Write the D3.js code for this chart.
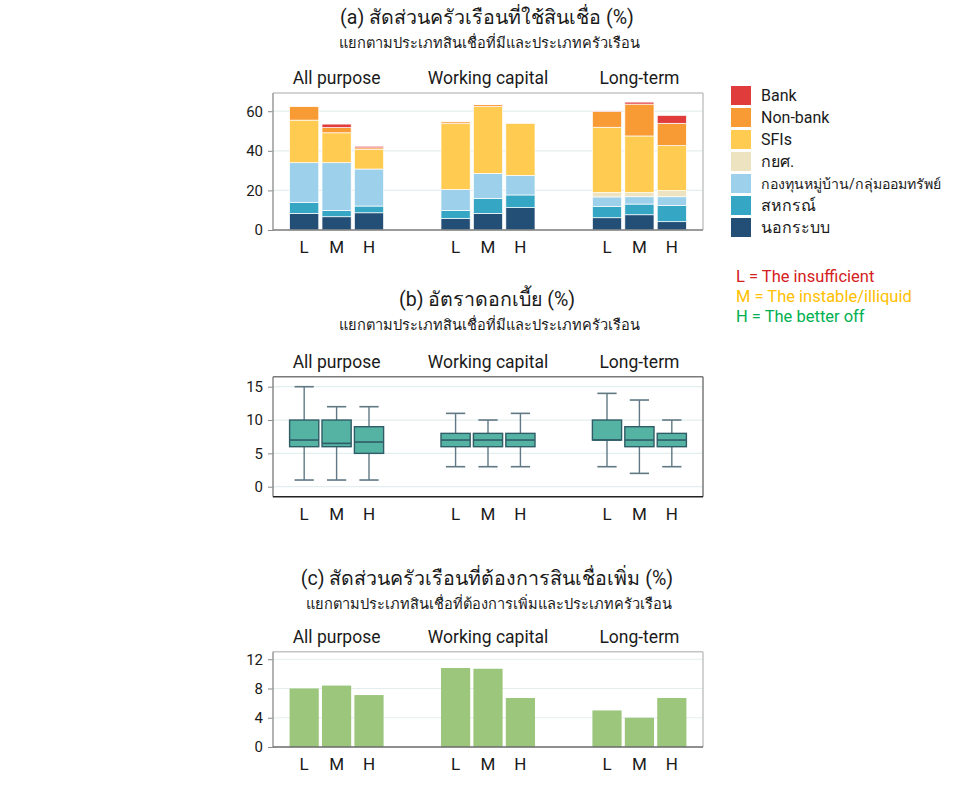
<!DOCTYPE html>
<html><head><meta charset="utf-8">
<script src="https://cdn.jsdelivr.net/npm/d3@7/dist/d3.min.js"></script>
<style>
body{margin:0;background:#fff;}
text{font-family:Roboto,"Noto Sans","DejaVu Sans",sans-serif;fill:#1a1a1a;}
</style></head>
<body><svg id="c" width="960" height="788"></svg>
<script>
// ---- data ----
const categories = ["All purpose","Working capital","Long-term"];
const hhTypes = ["L","M","H"];
// stacked sources, bottom to top
const sources = ["นอกระบบ","สหกรณ์","กองทุนหมู่บ้าน/กลุ่มออมทรัพย์","กยศ.","SFIs","Non-bank","Bank"];
const sourceColors = ["#234e76","#36a6c5","#9dd0ea","#ede3c0","#ffcb50","#f99b35","#e03c3c"];
// order: AP L,M,H | WC L,M,H | LT L,M,H
const informal = [8.4,6.7,8.7, 5.9,8.4,11.3, 6.2,7.7,4.2];
const coop     = [5.6,3.2,3.4, 3.9,7.6,6.4, 5.6,5.4,8.1];
const villageFund = [20,24.1,18.7, 10.6,12.6,9.9, 4.9,3.7,4.5];
const studentFund = [0,0,0, 0,0,0, 2.2,2.1,3.1];
const sfis     = [21.5,15.1,9.8, 33.3,33.7,26.3, 33,28.6,22.7];
const nonBank  = [6.8,2.6,0.9, 0.9,1.0,0.3, 7.9,16.1,11.3];
const bank     = [0,1.8,0.8, 0,0.3,0.2, 0.3,1.0,4.0];
const ticksA = [0,20,40,60];

// box plot (interest rate %)
const whiskerLow  = [1,1,1, 3,3,3, 3,2,3];
const q1          = [6,6,5, 6,6,6, 7,6,6];
const median      = [7,6.5,6.7, 7,7,7, 7,7,7];
const q3          = [10,10,9, 8,8,8, 10,9,8];
const whiskerHigh = [15,12,12, 11,10,11, 14,13,10];
const ticksB = [0,5,10,15];

// share wanting more credit
const wantMore = [8.0,8.4,7.1, 10.8,10.7,6.7, 5.0,4.0,6.7];
const ticksC = [0,4,8,12];

const legendNotes = [["L = The insufficient","#d42020"],["M = The instable/illiquid","#ffc000"],["H = The better off","#00b050"]];

// ---- drawing ----
const svg = d3.select("#c");
const X0 = 273, X1 = 703;
const gx = d3.scalePoint().domain(categories).range([X0,X1]).padding(0.42);
const ix = d3.scaleBand().domain(hhTypes).range([-47,47]).paddingInner(0.1);
const rows = [];
categories.forEach((c,ci)=>hhTypes.forEach((h,hi)=>rows.push({c,h,i:ci*3+hi})));
const bx = d => gx(d.c)+ix(d.h);

function title(y, t, sub){
  svg.append("text").attr("x",487).attr("y",y).attr("text-anchor","middle")
    .attr("font-size",19.6).text(t);
  svg.append("text").attr("x",489).attr("y",y+24).attr("text-anchor","middle")
    .attr("font-size",14.6).text(sub);
}

function frame(top,bottom,y,ticks,opts){
  const g = svg.append("g");
  g.selectAll(".gl").data(ticks.filter(t=>t!==0 || opts.zeroGrid)).join("line")
    .attr("x1",X0).attr("x2",X1).attr("y1",d=>y(d)).attr("y2",d=>y(d))
    .attr("stroke","#e4eeee").attr("stroke-width",1.2);
  g.selectAll(".gt").data(categories).join("text")
    .attr("x",d=>gx(d)).attr("y",top-9).attr("text-anchor","middle")
    .attr("font-size",17.5).text(d=>d);
  g.selectAll(".hl").data(rows).join("text")
    .attr("x",d=>bx(d)+ix.bandwidth()/2).attr("y",bottom+23).attr("text-anchor","middle")
    .attr("font-size",17).text(d=>d.h);
  return g;
}

function axisAndBox(top,bottom,y,ticks,style){
  const ax = d3.axisLeft(y).tickValues(ticks).tickSize(5).tickPadding(5);
  const a = svg.append("g").attr("transform",`translate(${X0},0)`).call(ax);
  a.select(".domain").remove();
  a.selectAll(".tick line").attr("stroke","#8a8a8a");
  a.selectAll(".tick text").attr("font-size",15).attr("fill","#1a1a1a")
    .style("font-family","Roboto,'Noto Sans',sans-serif");
  svg.append("line").attr("x1",X0).attr("x2",X1).attr("y1",top).attr("y2",top).attr("stroke",style.top).attr("stroke-width",1.5);
  svg.append("line").attr("x1",X1).attr("x2",X1).attr("y1",top).attr("y2",bottom).attr("stroke",style.top).attr("stroke-width",1.5);
  svg.append("line").attr("x1",X0).attr("x2",X0).attr("y1",top).attr("y2",bottom).attr("stroke",style.left).attr("stroke-width",1.5);
  svg.append("line").attr("x1",X0).attr("x2",X1).attr("y1",bottom).attr("y2",bottom).attr("stroke",style.bottom).attr("stroke-width",1.5);
}

// ===== Panel (a) =====
title(24,"(a) สัดส่วนครัวเรือนที่ใช้สินเชื่อ (%)","แยกตามประเภทสินเชื่อที่มีและประเภทครัวเรือน");
const aTop=93, aBot=230;
const ya = d3.scaleLinear().domain([0,69.2]).range([aBot,aTop]);
frame(aTop,aBot,ya,ticksA,{});
const seriesVals = [informal,coop,villageFund,studentFund,sfis,nonBank,bank];
const table = rows.map(r=>{const o={key:r.i,c:r.c,h:r.h}; sources.forEach((s,si)=>o[s]=seriesVals[si][r.i]); return o;});
const stack = d3.stack().keys(sources)(table);
svg.append("g").selectAll("g").data(stack).join("g").attr("fill",(d,i)=>sourceColors[i])
  .selectAll("rect").data(d=>d).join("rect")
  .attr("x",d=>bx(d.data)).attr("width",ix.bandwidth())
  .attr("y",d=>ya(d[1])).attr("height",d=>Math.max(0,ya(d[0])-ya(d[1])))
  .attr("stroke","#fff").attr("stroke-width",0.7);
axisAndBox(aTop,aBot,ya,ticksA,{top:"#c4c4c4",left:"#9a9a9a",bottom:"#7a7a7a"});

// legend
const lg = svg.append("g");
const legItems = sources.map((s,i)=>({s,c:sourceColors[i]})).reverse();
lg.selectAll("rect").data(legItems).join("rect")
  .attr("x",731).attr("y",(d,i)=>86+i*22).attr("width",20).attr("height",19).attr("fill",d=>d.c);
lg.selectAll("text").data(legItems).join("text")
  .attr("x",761).attr("y",(d,i)=>101+i*22).attr("font-size",16).text(d=>d.s)
  .each(function(){ const L=this.getComputedTextLength(); if(L>186){ d3.select(this).attr("font-size",16*186/L); } });
svg.append("g").selectAll("text").data(legendNotes).join("text")
  .attr("x",736).attr("y",(d,i)=>282+i*20).attr("font-size",16.5)
  .style("fill",d=>d[1]).text(d=>d[0]);

// ===== Panel (b) =====
title(306,"(b) อัตราดอกเบี้ย (%)","แยกตามประเภทสินเชื่อที่มีและประเภทครัวเรือน");
const bTop=376.7, bBot=496.7;
const yb = d3.scaleLinear().domain([-1.5,16.5]).range([bBot,bTop]);
frame(bTop,bBot,yb,ticksB,{zeroGrid:true});
const bg = svg.append("g");
const bw = ix.bandwidth();
const boxes = bg.selectAll("g").data(rows).join("g");
boxes.append("line").attr("x1",d=>bx(d)+bw/2).attr("x2",d=>bx(d)+bw/2)
  .attr("y1",d=>yb(whiskerLow[d.i])).attr("y2",d=>yb(whiskerHigh[d.i])).attr("stroke","#5f7884").attr("stroke-width",1.4);
[whiskerLow,whiskerHigh].forEach(arr=>{
  boxes.append("line").attr("x1",d=>bx(d)+bw*0.17).attr("x2",d=>bx(d)+bw*0.83)
    .attr("y1",d=>yb(arr[d.i])).attr("y2",d=>yb(arr[d.i])).attr("stroke","#5f7884").attr("stroke-width",1.6);
});
boxes.append("rect").attr("x",d=>bx(d)).attr("width",bw)
  .attr("y",d=>yb(q3[d.i])).attr("height",d=>yb(q1[d.i])-yb(q3[d.i]))
  .attr("fill","#55b3a4").attr("stroke","#2f5c66").attr("stroke-width",1.4);
boxes.append("line").attr("x1",d=>bx(d)).attr("x2",d=>bx(d)+bw)
  .attr("y1",d=>yb(median[d.i])).attr("y2",d=>yb(median[d.i])).attr("stroke","#2f5c66").attr("stroke-width",1.6);
axisAndBox(bTop,bBot,yb,ticksB,{top:"#7a7a7a",left:"#8a8a8a",bottom:"#222"});

// ===== Panel (c) =====
title(585,"(c) สัดส่วนครัวเรือนที่ต้องการสินเชื่อเพิ่ม (%)","แยกตามประเภทสินเชื่อที่ต้องการเพิ่มและประเภทครัวเรือน");
const cTop=651.7, cBot=747;
const yc = d3.scaleLinear().domain([0,13.03]).range([cBot,cTop]);
frame(cTop,cBot,yc,ticksC,{});
svg.append("g").selectAll("rect").data(rows).join("rect")
  .attr("x",d=>bx(d)).attr("width",bw)
  .attr("y",d=>yc(wantMore[d.i])).attr("height",d=>cBot-yc(wantMore[d.i]))
  .attr("fill","#9bc67b");
axisAndBox(cTop,cBot,yc,ticksC,{top:"#c4c4c4",left:"#9a9a9a",bottom:"#6a6a6a"});
</script></body></html>
